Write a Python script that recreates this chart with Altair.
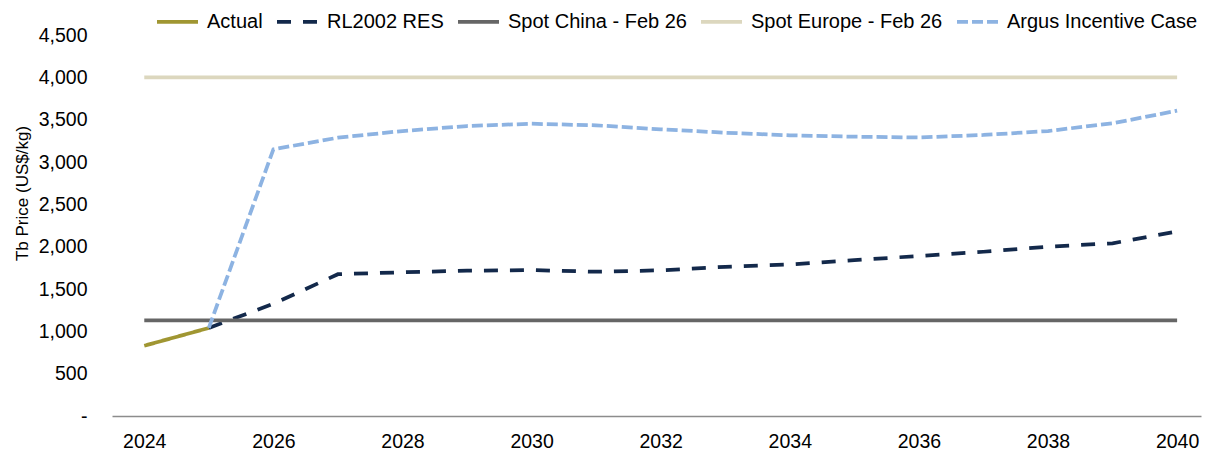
import altair as alt
import pandas as pd

series_names = ["Actual", "RL2002 RES", "Spot China - Feb 26", "Spot Europe - Feb 26", "Argus Incentive Case"]
series_colors = ["#A09632", "#13294B", "#666666", "#DCD7BE", "#8DB3E2"]
series_dash = [[1, 0], [14, 12], [1, 0], [1, 0], [11, 4]]

actual_years = [2024, 2025]
actual_values = [830, 1040]

forecast_years = [2025, 2026, 2027, 2028, 2029, 2030, 2031, 2032, 2033, 2034, 2035, 2036, 2037, 2038, 2039, 2040]
rl2002_values = [1040, 1325, 1675, 1697, 1716, 1724, 1704, 1721, 1762, 1790, 1840, 1890, 1940, 2000, 2040, 2180]
argus_values = [1040, 3150, 3287, 3366, 3425, 3452, 3433, 3386, 3346, 3315, 3299, 3290, 3319, 3366, 3457, 3606]

spot_years = [2024, 2040]
spot_china_values = [1130, 1130]
spot_europe_values = [4000, 4000]

x_ticks = [2024, 2026, 2028, 2030, 2032, 2034, 2036, 2038, 2040]
y_ticks = [0, 500, 1000, 1500, 2000, 2500, 3000, 3500, 4000, 4500]

rows = []
for name, years, vals in [
    (series_names[0], actual_years, actual_values),
    (series_names[1], forecast_years, rl2002_values),
    (series_names[2], spot_years, spot_china_values),
    (series_names[3], spot_years, spot_europe_values),
    (series_names[4], forecast_years, argus_values),
]:
    for y, v in zip(years, vals):
        rows.append({"series": name, "year": y, "value": v})
df = pd.DataFrame(rows)

FONT = "Liberation Sans"

legend = alt.Legend(
    title=None,
    orient="none",
    direction="horizontal",
    columns=5,
    legendX=43,
    legendY=-36,
    symbolType="stroke",
    symbolSize=1681,
    symbolStrokeWidth=3.75,
    labelFont=FONT,
    labelFontSize=20,
    labelColor="#000000",
    labelOffset=7,
    labelLimit=0,
    columnPadding=6,
    padding=0,
)

chart = alt.Chart(df).mark_line(strokeWidth=3.75).encode(
    x=alt.X(
        "year:Q",
        scale=alt.Scale(domain=[2023.5, 2040.37], nice=False, zero=False),
        axis=alt.Axis(
            values=x_ticks, format="d", title=None, ticks=False, tickSize=0, grid=False,
            domainColor="#8C8C8C", domainWidth=1.5,
            labelFont=FONT, labelFontSize=19.5, labelColor="#000000", labelPadding=16,
        ),
    ),
    y=alt.Y(
        "value:Q",
        scale=alt.Scale(domain=[0, 4500], nice=False),
        axis=alt.Axis(
            values=y_ticks,
            labelExpr="datum.value == 0 ? '-' : format(datum.value, ',')",
            title="Tb Price (US$/kg)", domain=False, ticks=False, tickSize=0, grid=False,
            labelFont=FONT, labelFontSize=19.5, labelColor="#000000", labelPadding=25,
            titleFont=FONT, titleFontSize=17, titleFontWeight="normal", titleColor="#000000",
            titleAngle=-90, titleX=-90, titleY=158, titleBaseline="middle", titleAlign="center",
        ),
    ),
    color=alt.Color("series:N", scale=alt.Scale(domain=series_names, range=series_colors), legend=legend),
    strokeDash=alt.StrokeDash("series:N", scale=alt.Scale(domain=series_names, range=series_dash), legend=legend),
    order=alt.Order("year:Q"),
).properties(
    width=1089,
    height=381,
    background="#ffffff",
    autosize=alt.AutoSizeParams(type="none"),
    padding={"left": 104, "top": 27, "right": 1, "bottom": 40},
).configure_view(stroke=None)

chart.save("out.html", embed_options={"renderer": "svg", "actions": False})
